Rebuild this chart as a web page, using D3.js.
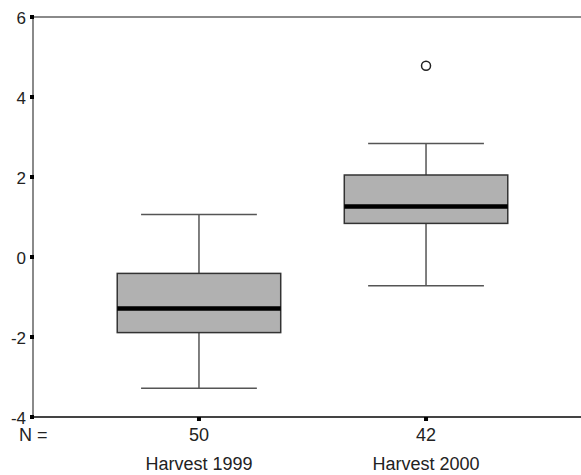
<!DOCTYPE html>
<html>
<head>
<meta charset="utf-8">
<script src="https://cdn.jsdelivr.net/npm/d3@7/dist/d3.min.js"></script>
<style>
  html, body { margin: 0; padding: 0; background: #fff; }
  svg { display: block; font-family: "Liberation Sans", Arial, sans-serif; }
</style>
</head>
<body>
<svg id="chart" width="581" height="475"></svg>
<script>
// Groups and their sample sizes
const groups = ["Harvest 1999", "Harvest 2000"];
const counts = [50, 42];

// Five-number summaries per group
const whiskerLow  = [-3.28, -0.72];
const quartile1   = [-1.89, 0.84];
const medians     = [-1.29, 1.26];
const quartile3   = [-0.41, 2.05];
const whiskerHigh = [1.06, 2.84];

// Outlying observations: [group index, value]
const outliers = [[1, 4.78]];

// Y axis ticks
const yTicks = [-4, -2, 0, 2, 4, 6];

(function () {
  const svg = d3.select("#chart");
  const plotLeft = 33, plotTop = 17, plotBottom = 417, plotRight = 592;

  const y = d3.scaleLinear().domain([-4, 6]).range([plotBottom, plotTop]);
  const x = d3.scaleBand().domain(groups).range([plotLeft, plotRight])
    .paddingInner(0).paddingOuter(0.231);

  const bw = x.bandwidth();
  const boxW = bw * 0.72;
  const capW = bw * 0.51;
  const cx = name => x(name) + bw / 2;

  // Frame: top and left in grey
  svg.append("line").attr("x1", plotLeft).attr("x2", 581).attr("y1", plotTop).attr("y2", plotTop)
    .attr("stroke", "#8a8a8a").attr("stroke-width", 2);
  svg.append("line").attr("x1", plotLeft).attr("x2", plotLeft).attr("y1", plotTop).attr("y2", plotBottom)
    .attr("stroke", "#8a8a8a").attr("stroke-width", 2);

  // Boxes
  const g = svg.append("g");
  groups.forEach((name, i) => {
    const c = cx(name);
    const seg = (x1, x2, y1, y2) => g.append("line")
      .attr("x1", x1).attr("x2", x2).attr("y1", y1).attr("y2", y2)
      .attr("stroke", "#555").attr("stroke-width", 1.5);
    // whiskers and caps
    seg(c, c, y(quartile3[i]), y(whiskerHigh[i]));
    seg(c, c, y(quartile1[i]), y(whiskerLow[i]));
    seg(c - capW / 2, c + capW / 2, y(whiskerHigh[i]), y(whiskerHigh[i]));
    seg(c - capW / 2, c + capW / 2, y(whiskerLow[i]), y(whiskerLow[i]));
    // box
    g.append("rect").attr("x", c - boxW / 2).attr("width", boxW)
      .attr("y", y(quartile3[i])).attr("height", y(quartile1[i]) - y(quartile3[i]))
      .attr("fill", "#b1b1b1").attr("stroke", "#333").attr("stroke-width", 1.5);
    // median
    g.append("line").attr("x1", c - boxW / 2).attr("x2", c + boxW / 2)
      .attr("y1", y(medians[i])).attr("y2", y(medians[i]))
      .attr("stroke", "#000").attr("stroke-width", 4.5);
  });

  // Outliers
  outliers.forEach(([i, v]) => {
    g.append("circle").attr("cx", cx(groups[i])).attr("cy", y(v)).attr("r", 4.5)
      .attr("fill", "#fff").attr("stroke", "#222").attr("stroke-width", 1.5);
  });

  // Baseline
  svg.append("line").attr("x1", plotLeft).attr("x2", 581).attr("y1", plotBottom).attr("y2", plotBottom)
    .attr("stroke", "#444").attr("stroke-width", 2);

  // Y ticks: small black squares and labels
  yTicks.forEach(t => {
    svg.append("rect").attr("x", plotLeft - 3).attr("y", y(t) - 2).attr("width", 4).attr("height", 4)
      .attr("fill", "#000");
    svg.append("text").attr("x", plotLeft - 7).attr("y", y(t) + 1).attr("dy", "0.35em")
      .attr("text-anchor", "end").attr("font-size", 17).attr("fill", "#222").text(t);
  });

  // X ticks, counts and group names
  svg.append("text").attr("x", 19).attr("y", 435).attr("dy", "0.35em")
    .attr("font-size", 18).attr("fill", "#222").text("N =");
  groups.forEach((name, i) => {
    const c = cx(name);
    svg.append("rect").attr("x", c - 2).attr("y", plotBottom).attr("width", 4).attr("height", 4).attr("fill", "#000");
    svg.append("text").attr("x", c).attr("y", 435).attr("dy", "0.35em").attr("text-anchor", "middle")
      .attr("font-size", 18).attr("fill", "#222").text(counts[i]);
    svg.append("text").attr("x", c).attr("y", 464).attr("dy", "0.35em").attr("text-anchor", "middle")
      .attr("font-size", 18).attr("fill", "#222").text(name);
  });
})();
</script>
</body>
</html>
